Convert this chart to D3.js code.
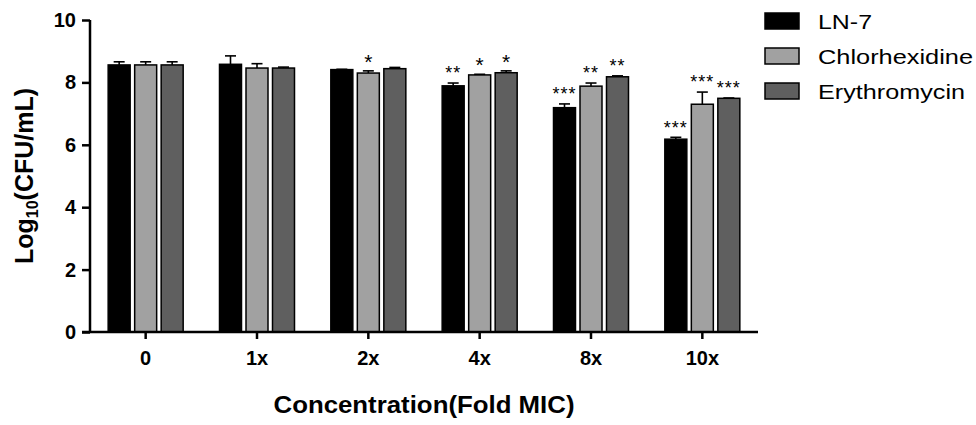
<!DOCTYPE html>
<html>
<head>
<meta charset="utf-8">
<script src="https://cdn.jsdelivr.net/npm/d3@7"></script>
<style>
  body { margin: 0; background: #fff; }
  svg { display: block; font-family: "Liberation Sans", Arial, sans-serif; }
</style>
</head>
<body>
<svg id="chart" width="976" height="425"></svg>
<script>
// Data
const categories = ["0", "1x", "2x", "4x", "8x", "10x"];
const seriesNames = ["LN-7", "Chlorhexidine", "Erythromycin"];
const ln7 = [8.56, 8.58, 8.41, 7.89, 7.19, 6.18];
const ln7Err = [0.10, 0.27, 0.01, 0.09, 0.12, 0.06];
const chx = [8.56, 8.46, 8.30, 8.24, 7.88, 7.30];
const chxErr = [0.10, 0.14, 0.07, 0.02, 0.10, 0.39];
const ery = [8.56, 8.46, 8.44, 8.31, 8.18, 7.49];
const eryErr = [0.10, 0.03, 0.04, 0.06, 0.03, 0.01];
const ln7Sig = ["", "", "", "**", "***", "***"];
const chxSig = ["", "", "*", "*", "**", "***"];
const erySig = ["", "", "", "*", "**", "***"];
const yTicks = [0, 2, 4, 6, 8, 10];
const colors = ["#000000", "#a1a1a1", "#5f5f5f"];

const values = [ln7, chx, ery];
const errors = [ln7Err, chxErr, eryErr];
const sigs = [ln7Sig, chxSig, erySig];

// layout
const plot = {left: 90, right: 758, top: 20, bottom: 332};
const svg = d3.select("#chart");

const x = d3.scaleBand().domain(categories).range([plot.left, plot.right]);
const xs = d3.scaleBand().domain(seriesNames).range([-37.5, 37.5]).paddingInner(0.17);
const y = d3.scaleLinear().domain([0, 10]).range([plot.bottom, plot.top]);

// flatten into bar records
const bars = [];
categories.forEach((c, i) => {
    seriesNames.forEach((s, j) => {
        bars.push({cat: c, series: s, si: j, v: values[j][i], e: errors[j][i], sig: sigs[j][i]});
    });
});

////////// Bars //////////
const g = svg.append("g");

g.selectAll("rect.bar")
    .data(bars)
    .enter().append("rect")
    .attr("class", "bar")
    .attr("x", d => x(d.cat) + x.bandwidth() / 2 + xs(d.series))
    .attr("y", d => y(d.v))
    .attr("width", xs.bandwidth())
    .attr("height", d => y(0) - y(d.v))
    .attr("fill", d => colors[d.si])
    .attr("stroke", "#000")
    .attr("stroke-width", 1.5);

// error bars (upper only)
const cx = d => x(d.cat) + x.bandwidth() / 2 + xs(d.series) + xs.bandwidth() / 2;
g.selectAll("line.err")
    .data(bars)
    .enter().append("line")
    .attr("x1", cx).attr("x2", cx)
    .attr("y1", d => y(d.v))
    .attr("y2", d => y(d.v + d.e))
    .attr("stroke", "#000")
    .attr("stroke-width", 1.6);

g.selectAll("line.cap")
    .data(bars)
    .enter().append("line")
    .attr("x1", d => cx(d) - 5.5).attr("x2", d => cx(d) + 5.5)
    .attr("y1", d => y(d.v + d.e))
    .attr("y2", d => y(d.v + d.e))
    .attr("stroke", "#000")
    .attr("stroke-width", 1.6);

// significance stars
const starSize = d => d.sig.length === 1 ? 21 : 18;
g.selectAll("text.sig")
    .data(bars.filter(d => d.sig !== ""))
    .enter().append("text")
    .attr("x", cx)
    .attr("y", d => y(d.v + d.e) - 14 + starSize(d) * 0.575)
    .attr("text-anchor", "middle")
    .style("font-size", d => starSize(d) + "px")
    .style("letter-spacing", d => d.sig.length === 1 ? "0px" : "1px")
    .text(d => d.sig);

////////// Axes //////////
const yAxis = svg.append("g")
    .attr("transform", `translate(${plot.left},0)`)
    .call(d3.axisLeft(y).tickValues(yTicks).tickSize(8).tickPadding(6));
yAxis.select(".domain").attr("d", `M0,${plot.top}V${plot.bottom}`);

const xAxis = svg.append("g")
    .attr("transform", `translate(0,${plot.bottom})`)
    .call(d3.axisBottom(x).tickSize(7).tickPadding(12));
xAxis.select(".domain").attr("d", `M${plot.left - 8},0H${plot.right}`);

svg.selectAll(".domain").attr("stroke", "#000").attr("stroke-width", 2.5);
svg.selectAll(".tick line").attr("stroke", "#000").attr("stroke-width", 2.5);
svg.selectAll(".tick text")
    .attr("fill", "#000")
    .style("font-size", "20px")
    .style("font-weight", "bold")
    .style("font-family", "'Liberation Sans', Arial, sans-serif");

// axis titles
svg.append("text")
    .attr("x", (plot.left + plot.right) / 2)
    .attr("y", 413)
    .attr("text-anchor", "middle")
    .attr("textLength", 301)
    .attr("lengthAdjust", "spacingAndGlyphs")
    .style("font-size", "24px")
    .style("font-weight", "bold")
    .text("Concentration(Fold MIC)");

const yTitle = svg.append("text")
    .attr("transform", `translate(33,${(plot.top + plot.bottom) / 2}) rotate(-90)`)
    .attr("text-anchor", "middle")
    .style("font-size", "25px")
    .style("font-weight", "bold");
yTitle.append("tspan").text("Log");
yTitle.append("tspan").attr("dy", 5).style("font-size", "16px").text("10");
yTitle.append("tspan").attr("dy", -5).text("(CFU/mL)");

////////// Legend //////////
const legendLens = [54, 155, 147];
const legend = svg.append("g");
seriesNames.forEach((s, i) => {
    legend.append("rect")
        .attr("x", 765)
        .attr("y", 13 + i * 35)
        .attr("width", 34)
        .attr("height", 16)
        .attr("fill", colors[i])
        .attr("stroke", "#000")
        .attr("stroke-width", 1.5);
    legend.append("text")
        .attr("x", 818)
        .attr("y", 29 + i * 35)
        .attr("textLength", legendLens[i])
        .attr("lengthAdjust", "spacingAndGlyphs")
        .style("font-size", "21px")
        .text(s);
});
</script>
</body>
</html>
